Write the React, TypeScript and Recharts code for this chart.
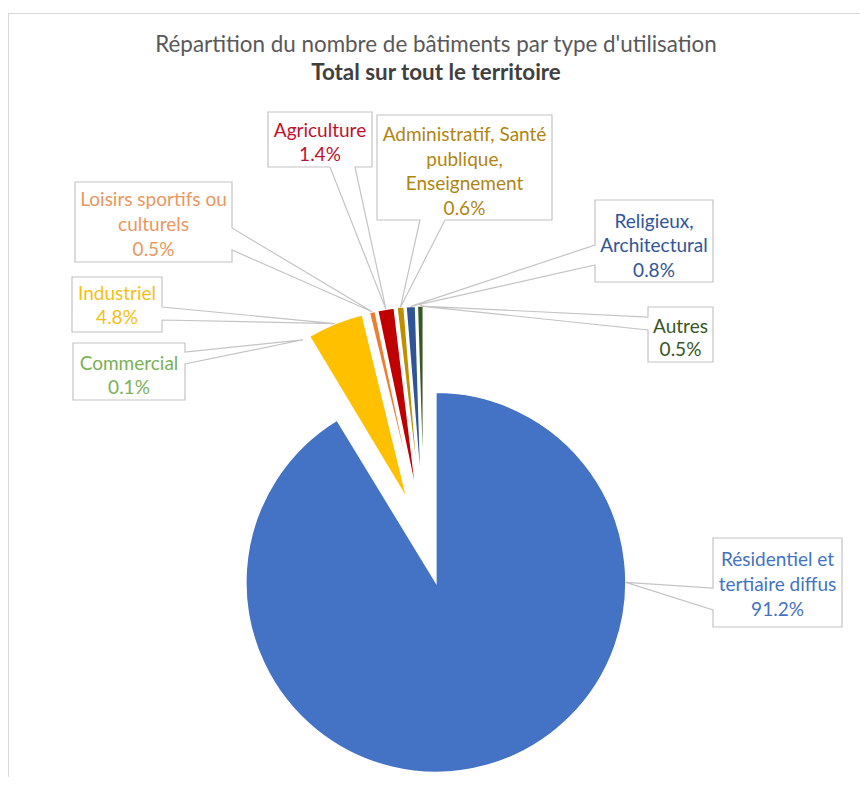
import React from 'react';
import { PieChart, Pie, Cell, Sector } from 'recharts';

// ---------- data ----------
const categories: string[] = [
  'Résidentiel et\ntertiaire diffus',
  'Commercial',
  'Industriel',
  'Loisirs sportifs ou\nculturels',
  'Agriculture',
  'Administratif, Santé\npublique,\nEnseignement',
  'Religieux,\nArchitectural',
  'Autres',
];
const shares: number[] = [91.2, 0.1, 4.8, 0.5, 1.4, 0.6, 0.8, 0.5];

const titleText = "Répartition du nombre de bâtiments par type d'utilisation";
const subtitleText = 'Total sur tout le territoire';

// ---------- styles / layout ----------
const sliceColors = ['#4472C4', '#70AD47', '#FFC000', '#ED7D31', '#C00000', '#BF8F00', '#2F5597', '#385723'];
const textColors = ['#4472C4', '#79B055', '#F5BF14', '#EC9660', '#C0102E', '#B08512', '#2F5597', '#385723'];

const W = 852;
const H = 769;
const FONT = 'Lato, "Open Sans", sans-serif';
const EXPLODE = 44;
const RADIAN = Math.PI / 180;
const LABEL_SIZE = 19;
const BORDER = '#c4c4c4';

type Box = {
  x1: number; y1: number; x2: number; y2: number;
  side: 'left' | 'right' | 'bottom';
  b1: number; b2: number;
  lineY: number[];
};

const boxes: Box[] = [
  { x1: 705, y1: 530, x2: 834, y2: 619, side: 'left', b1: 580, b2: 602, lineY: [550, 575, 600] },
  { x1: 65, y1: 335, x2: 177, y2: 392, side: 'right', b1: 344, b2: 356, lineY: [354, 378] },
  { x1: 64, y1: 269, x2: 154, y2: 324, side: 'right', b1: 299, b2: 312, lineY: [284, 308] },
  { x1: 67, y1: 174, x2: 224, y2: 254, side: 'right', b1: 220, b2: 242, lineY: [190, 215, 240] },
  { x1: 260, y1: 104, x2: 364, y2: 159, side: 'bottom', b1: 322, b2: 347, lineY: [121, 145] },
  { x1: 369, y1: 107, x2: 544, y2: 212, side: 'bottom', b1: 412, b2: 437, lineY: [125, 150, 174, 199] },
  { x1: 587, y1: 192, x2: 705, y2: 274, side: 'left', b1: 237, b2: 257, lineY: [212, 236.5, 261] },
  { x1: 640, y1: 299, x2: 705, y2: 354, side: 'left', b1: 309, b2: 322, lineY: [317, 340] },
];

const data = categories.map((name, i) => ({ name, value: shares[i] }));

function calloutPath(b: Box, tx: number, ty: number): string {
  const pts: [number, number][] = [];
  pts.push([b.x1, b.y1]);
  pts.push([b.x2, b.y1]);
  if (b.side === 'right') {
    pts.push([b.x2, b.b1], [tx, ty], [b.x2, b.b2]);
  }
  pts.push([b.x2, b.y2]);
  if (b.side === 'bottom') {
    pts.push([b.b2, b.y2], [tx, ty], [b.b1, b.y2]);
  }
  pts.push([b.x1, b.y2]);
  if (b.side === 'left') {
    pts.push([b.x1, b.b2], [tx, ty], [b.x1, b.b1]);
  }
  return 'M' + pts.map((p) => `${p[0]},${p[1]}`).join('L') + 'Z';
}

const renderExplodedSlice = (props: any) => {
  const { cx, cy, midAngle, startAngle, endAngle, outerRadius, index, value, name } = props;
  const ex = cx + EXPLODE * Math.cos(-midAngle * RADIAN);
  const ey = cy + EXPLODE * Math.sin(-midAngle * RADIAN);
  const b = boxes[index];
  const bcx = (b.x1 + b.x2) / 2;
  const bcy = (b.y1 + b.y2) / 2;
  let tipAngle = midAngle;
  if (Math.abs(startAngle - endAngle) > 90) {
    tipAngle = -Math.atan2(bcy - ey, bcx - ex) / RADIAN;
  }
  const tx = ex + outerRadius * Math.cos(-tipAngle * RADIAN);
  const ty = ey + outerRadius * Math.sin(-tipAngle * RADIAN);
  const lines = [...String(name).split('\n'), `${Number(value).toFixed(1)}%`];
  return (
    <g key={`slice-${index}`}>
      <Sector
        cx={ex}
        cy={ey}
        innerRadius={0}
        outerRadius={outerRadius}
        startAngle={startAngle}
        endAngle={endAngle}
        fill={sliceColors[index]}
        stroke="#ffffff"
        strokeWidth={1.5}
      />
      <rect x={b.x1} y={b.y1} width={b.x2 - b.x1} height={b.y2 - b.y1} fill="#ffffff" stroke="none" />
      <path d={calloutPath(b, tx, ty)} fill="none" stroke={BORDER} strokeWidth={1.2} />
      {lines.map((ln, k) => (
        <text
          key={k}
          x={bcx}
          y={b.lineY[k]}
          textAnchor="middle"
          dominantBaseline="central"
          fontFamily={FONT}
          fontSize={LABEL_SIZE}
          fill={textColors[index]}
        >
          {ln}
        </text>
      ))}
    </g>
  );
};

export default function App() {
  return (
    <div style={{ position: 'relative', width: W, height: H, fontFamily: FONT, background: '#ffffff' }}>
      <div
        style={{
          position: 'absolute',
          left: 0,
          top: 5,
          width: W,
          height: H - 5,
          borderLeft: '1px solid #d9d9d9',
          borderTop: '1px solid #d9d9d9',
          boxSizing: 'border-box',
        }}
      />
      <div
        style={{
          position: 'absolute',
          left: 0,
          top: 22,
          width: 856,
          textAlign: 'center',
          fontSize: 22.4,
          lineHeight: '28px',
          color: '#595959',
          whiteSpace: 'nowrap',
        }}
      >
        {titleText}
      </div>
      <div
        style={{
          position: 'absolute',
          left: 0,
          top: 50,
          width: 856,
          textAlign: 'center',
          fontSize: 22.4,
          lineHeight: '28px',
          fontWeight: 700,
          color: '#404040',
          whiteSpace: 'nowrap',
        }}
      >
        {subtitleText}
      </div>
      <div style={{ position: 'absolute', left: 0, top: 0 }}>
        <PieChart width={W} height={H} margin={{ top: 0, right: 0, bottom: 0, left: 0 }}>
          <Pie
            data={data}
            dataKey="value"
            nameKey="name"
            cx={416}
            cy={532}
            outerRadius={190}
            startAngle={90}
            endAngle={-270}
            isAnimationActive={false}
            label={renderExplodedSlice}
            labelLine={false}
            stroke="none"
          >
            {data.map((d, i) => (
              <Cell key={`cell-${i}`} fill="transparent" stroke="none" />
            ))}
          </Pie>
        </PieChart>
      </div>
    </div>
  );
}
